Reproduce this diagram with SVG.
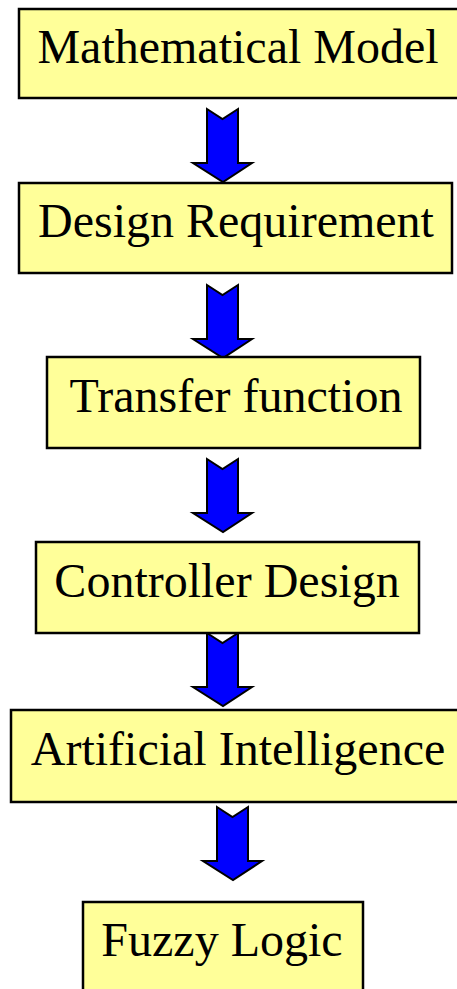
<svg xmlns="http://www.w3.org/2000/svg" width="457" height="989" viewBox="0 0 457 989">
  <style>
    .box { fill: #FFFF99; stroke: #000000; stroke-width: 2.5; }
    .label { font-family: "Liberation Serif", "Times New Roman", serif; font-size: 48px; fill: #000000; text-anchor: middle; }
    .arrow { fill: #0000FF; stroke: #000000; stroke-width: 2; stroke-linejoin: miter; }
  </style>
  <defs>
    <!-- block arrow pointing down, drawn with origin at top-left of the shaft -->
    <path id="blockArrow" d="M0,0 L15.5,10 L31,0 L31,54 L45,54 L16,73 L-14,54 L0,54 Z"/>
  </defs>

  <g id="connectors">
    <use href="#blockArrow" class="arrow" x="207" y="109"/>
    <use href="#blockArrow" class="arrow" x="207" y="285"/>
    <use href="#blockArrow" class="arrow" x="207" y="459"/>
    <use href="#blockArrow" class="arrow" x="207" y="633"/>
    <use href="#blockArrow" class="arrow" x="217" y="807"/>
  </g>

  <g id="mathematical-model">
    <rect class="box" x="19" y="9" width="445" height="89"/>
    <text class="label" x="238" y="63">Mathematical Model</text>
  </g>

  <g id="design-requirement">
    <rect class="box" x="19" y="183" width="433" height="90"/>
    <text class="label" x="236" y="237">Design Requirement</text>
  </g>

  <g id="transfer-function">
    <rect class="box" x="47" y="357" width="373" height="91"/>
    <text class="label" x="236" y="412">Transfer function</text>
  </g>

  <g id="controller-design">
    <rect class="box" x="36" y="542" width="383" height="91"/>
    <text class="label" x="227" y="597">Controller Design</text>
  </g>

  <g id="artificial-intelligence">
    <rect class="box" x="11" y="710" width="455" height="92"/>
    <text class="label" x="238" y="765">Artificial Intelligence</text>
  </g>

  <g id="fuzzy-logic">
    <rect class="box" x="83" y="902" width="280" height="100"/>
    <text class="label" x="222" y="956">Fuzzy Logic</text>
  </g>
</svg>
